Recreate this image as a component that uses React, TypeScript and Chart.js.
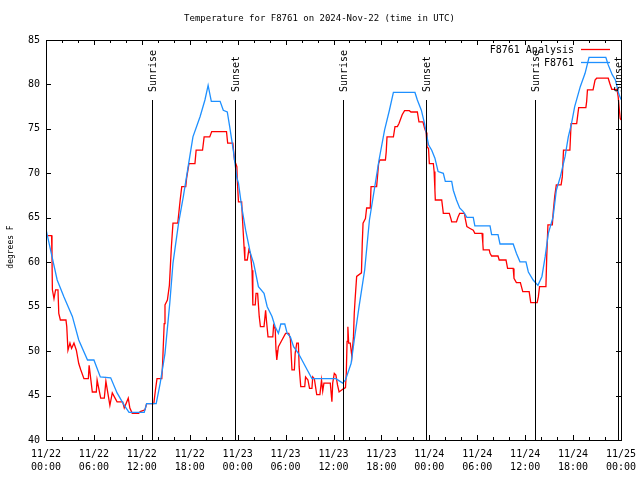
import React, { useEffect, useRef } from "react";
import { Chart, registerables } from "chart.js";

Chart.register(...registerables);

const TITLE = "Temperature for F8761 on 2024-Nov-22 (time in UTC)";
const Y_LABEL = "degrees F";
const ANALYSIS_NAME = "F8761 Analysis";
const OBS_NAME = "F8761";

const X_TICK_HOURS = [0, 6, 12, 18, 24, 30, 36, 42, 48, 54, 60, 66, 72];
const X_TICK_DATES = ["11/22", "11/22", "11/22", "11/22", "11/23", "11/23", "11/23", "11/23", "11/24", "11/24", "11/24", "11/24", "11/25"];
const X_TICK_TIMES = ["00:00", "06:00", "12:00", "18:00", "00:00", "06:00", "12:00", "18:00", "00:00", "06:00", "12:00", "18:00", "00:00"];

const SUN_HOURS = [13.25, 23.65, 37.25, 47.55, 61.2, 71.6];
const SUN_LABELS = ["Sunrise", "Sunset", "Sunrise", "Sunset", "Sunrise", "Sunset"];
const SUN_LINE_TOP = 78.3;

// F8761 (observations) — hours since 11/22 00:00 UTC, degrees F
const OBS_HOURS = [
  0, 1.4, 2.25, 3.3, 4.1, 5.2, 6.0, 6.8, 8.1, 8.9, 9.8, 10.4, 12.3, 12.6, 13.8, 14.3, 14.9, 15.5, 15.9, 16.6,
  17.2, 17.8, 18.4, 19.3, 19.9, 20.3, 20.7, 21.8, 22.2, 22.7, 23.0, 23.45, 23.9, 24.1, 24.5, 25.0, 25.6, 26.0,
  26.6, 27.3, 27.7, 28.3, 28.7, 29.1, 29.4, 29.9, 30.2, 30.6, 31.0, 31.6, 32.05, 32.7, 33.3, 35.8, 36.3, 37.15,
  37.5, 38.2, 38.6, 39.2, 39.9, 40.5, 41.1, 41.7, 42.4, 43.0, 43.5, 46.2, 46.5, 47.0, 47.4, 47.9, 48.3, 48.7,
  49.1, 49.75, 50.0, 50.8, 51.0, 51.4, 51.8, 52.25, 52.7, 53.5, 53.7, 55.6, 55.8, 56.6, 56.85, 58.5, 58.9,
  59.35, 60.1, 60.4, 61.0, 61.6, 62.1, 62.5, 62.9, 63.5, 63.9, 64.4, 65.0, 65.4, 65.8, 66.2, 66.9, 67.5, 68.0,
  70.1, 70.4, 70.9, 71.3, 71.7, 72.0,
];
const OBS_TEMPS = [
  63.7, 58.0, 56.1, 53.9, 51.25, 49.0, 49.0, 47.1, 47.0, 45.3, 43.9, 43.1, 43.1, 44.1, 44.1, 46.4, 49.75, 55.4, 59.9, 64.4,
  67.4, 70.75, 74.1, 76.4, 78.25, 79.9, 78.1, 78.1, 77.1, 76.9, 75.25, 72.6, 69.5, 68.9, 66.25, 63.6, 61.0, 59.9,
  57.25, 56.5, 55.0, 53.9, 52.75, 52.0, 53.05, 53.05, 52.0, 51.6, 50.5, 49.75, 49.0, 47.9, 46.9, 46.9, 46.9, 46.4,
  46.75, 48.6, 51.25, 55.0, 59.1, 64.75, 68.1, 71.5, 74.9, 77.1, 79.1, 79.1, 78.25, 77.1, 75.6, 73.2, 72.6, 71.7,
  70.2, 70.0, 69.1, 69.1, 68.1, 67.0, 66.1, 65.7, 65.05, 65.05, 64.1, 64.1, 63.1, 63.1, 62.05, 62.05, 61.0,
  60.05, 60.05, 58.9, 58.0, 57.4, 58.4, 60.6, 63.25, 65.1, 68.1, 69.6, 71.9, 74.1, 75.6, 77.5, 79.75, 81.25, 83.05,
  83.05, 82.2, 81.1, 80.5, 79.0, 78.3,
];

// F8761 Analysis
const ANA_HOURS = [
  0, 0.7, 0.75, 0.8, 1.0, 1.2, 1.5, 1.6, 1.8, 2.5, 2.6, 2.75, 3.0, 3.2, 3.5, 3.8, 4.1, 4.35, 4.75, 5.3,
  5.4, 5.8, 6.3, 6.4, 6.85, 7.3, 7.5, 8.0, 8.3, 8.6, 8.9, 9.6, 9.8, 10.3, 10.5, 10.8, 11.6, 11.8, 12.4, 12.6,
  13.5, 13.7, 13.9, 14.5, 14.6, 14.8, 14.9, 15.2, 15.45, 15.7, 15.9, 16.5, 16.8, 17.0, 17.5, 17.6, 17.9, 18.65,
  18.8, 19.6, 19.8, 20.5, 20.75, 22.6, 22.75, 23.4, 23.6, 23.9, 23.95, 24.1, 24.5, 24.6, 24.8, 24.9, 25.2,
  25.4, 25.6, 25.8, 25.9, 26.2, 26.3, 26.5, 26.7, 26.85, 27.3, 27.5, 27.6, 27.8, 28.4, 28.5, 28.7, 28.8, 28.9,
  29.1, 29.55, 30.0, 30.4, 30.6, 30.8, 31.1, 31.2, 31.4, 31.6, 31.7, 31.9, 32.4, 32.5, 32.8, 33.0, 33.3, 33.4,
  33.6, 33.9, 34.3, 34.5, 34.65, 34.8, 35.6, 35.8, 35.9, 36.1, 36.3, 36.5, 36.7, 37.15, 37.5, 37.6, 37.7, 37.8,
  37.9, 38.1, 38.3, 38.5, 38.6, 38.7, 38.9, 39.5, 39.6, 39.7, 40.0, 40.15, 40.6, 40.7, 41.4, 41.65, 41.8, 42.5,
  42.6, 42.7, 43.5, 43.7, 44.0, 44.2, 44.6, 44.9, 45.5, 45.7, 46.5, 46.7, 47.2, 47.4, 47.6, 47.7, 47.9, 48.0,
  48.5, 48.6, 48.7, 48.75, 49.55, 49.7, 49.75, 50.5, 50.7, 50.8, 51.4, 51.6, 51.8, 52.4, 52.5, 52.7, 53.1, 53.5,
  53.7, 54.6, 54.7, 54.75, 55.5, 55.6, 55.8, 56.6, 56.75, 57.6, 57.8, 58.5, 58.6, 58.9, 59.4, 59.7, 60.5, 60.7,
  61.5, 61.65, 61.8, 62.6, 62.7, 62.85, 63.4, 63.5, 63.7, 63.9, 64.5, 64.65, 64.8, 65.6, 65.75, 66.45, 66.7,
  67.6, 67.7, 67.8, 68.5, 68.75, 68.95, 70.4, 70.6, 70.85, 71.5, 71.65, 71.8, 71.9, 72.0,
];
const ANA_TEMPS = [
  63.0, 63.0, 60.6, 56.9, 55.9, 56.9, 56.9, 54.25, 53.5, 53.5, 52.75, 50.1, 50.9, 50.3, 50.9, 50.1, 48.6, 47.9, 46.9, 46.9,
  48.4, 45.4, 45.4, 46.75, 44.7, 44.7, 46.6, 43.9, 45.3, 44.8, 44.3, 44.3, 43.6, 44.7, 43.6, 43.0, 43.0, 43.2, 43.4, 44.1,
  44.1, 45.6, 46.9, 46.9, 48.6, 53.1, 55.2, 55.75, 57.4, 61.75, 64.4, 64.4, 67.0, 68.5, 68.5, 69.4, 71.1, 71.1,
  72.6, 72.6, 74.1, 74.1, 74.7, 74.7, 73.4, 73.4, 71.5, 70.75, 69.25, 66.8, 66.8, 64.9, 61.75, 60.25, 60.25,
  61.4, 61.0, 59.1, 55.2, 55.2, 56.5, 56.5, 53.9, 52.75, 52.75, 54.6, 53.5, 51.6, 51.6, 52.9, 52.5, 50.1, 49.0,
  50.5, 51.25, 52.0, 52.0, 51.4, 47.9, 47.9, 49.75, 50.9, 50.9, 48.25, 46.0, 46.0, 47.1, 46.75, 45.8, 45.8, 47.1,
  46.9, 45.1, 45.1, 46.75, 45.5, 46.4, 46.4, 44.3, 46.4, 47.5, 47.3, 46.2, 45.4, 45.7, 45.9, 47.5, 51.1, 52.75,
  50.9, 50.9, 49.4, 51.6, 54.25, 55.75, 58.4, 58.8, 62.1, 64.4, 64.9, 66.1, 66.1, 68.5, 68.5, 71.1, 71.5, 71.5,
  72.4, 74.1, 74.1, 75.25, 75.25, 75.6, 76.6, 77.05, 77.05, 76.9, 76.9, 75.8, 75.8, 75.1, 74.6, 73.0, 72.8, 71.1,
  71.1, 70.2, 68.1, 67.0, 67.0, 65.9, 65.5, 65.5, 64.9, 64.55, 64.55, 65.1, 65.5, 65.5, 64.9, 64.0, 63.8, 63.6,
  63.25, 63.25, 62.1, 61.4, 61.4, 61.0, 60.7, 60.7, 60.25, 60.25, 59.3, 59.3, 58.2, 57.7, 57.7, 56.7, 56.7, 55.45,
  55.45, 56.1, 57.25, 57.25, 60.6, 64.2, 64.2, 65.5, 67.4, 68.7, 68.7, 69.6, 72.6, 72.6, 75.6, 75.6, 77.4,
  77.4, 78.1, 79.4, 79.4, 80.5, 80.7, 80.7, 80.1, 79.45, 79.45, 78.6, 77.1, 76.2, 76.0,
];

const RED = "#ff0000";
const BLUE = "#1e90ff";
const FONT_FAMILY = '"DejaVu Sans Mono", "Liberation Mono", monospace';
const FONT = `10px ${FONT_FAMILY}`;
const TITLE_FONT = `9px ${FONT_FAMILY}`;
const YLABEL_FONT = `8px ${FONT_FAMILY}`;

const decorPlugin = {
  id: "decor",
  afterDraw(chart: any) {
    const { ctx, chartArea, scales } = chart;
    const { left, right, top, bottom } = chartArea;
    const xs = scales.x;
    const ys = scales.y;
    ctx.save();
    ctx.strokeStyle = "#000";
    ctx.fillStyle = "#000";
    ctx.lineWidth = 1;

    // frame
    ctx.strokeRect(Math.round(left) + 0.5, Math.round(top) + 0.5, Math.round(right - left), Math.round(bottom - top));

    // x ticks (major 6h, minor 2h), bottom and top
    ctx.beginPath();
    for (let h = xs.min; h <= xs.max; h += 2) {
      const px = Math.round(xs.getPixelForValue(h)) + 0.5;
      const len = h % 6 === 0 ? 5 : 3;
      ctx.moveTo(px, bottom);
      ctx.lineTo(px, bottom - len);
      ctx.moveTo(px, top);
      ctx.lineTo(px, top + len);
    }
    // y ticks left and right
    for (let v = ys.min; v <= ys.max; v += 5) {
      const py = Math.round(ys.getPixelForValue(v)) + 0.5;
      ctx.moveTo(left, py);
      ctx.lineTo(left + 5, py);
      ctx.moveTo(right, py);
      ctx.lineTo(right - 5, py);
    }
    ctx.stroke();

    ctx.font = FONT;

    // sunrise / sunset markers
    const lineTop = Math.round(ys.getPixelForValue(SUN_LINE_TOP));
    SUN_HOURS.forEach((h, i) => {
      const px = Math.round(xs.getPixelForValue(h)) + 0.5;
      ctx.beginPath();
      ctx.moveTo(px, lineTop);
      ctx.lineTo(px, bottom);
      ctx.stroke();
      ctx.save();
      ctx.translate(px + 1, lineTop - 8);
      ctx.rotate(-Math.PI / 2);
      ctx.textAlign = "left";
      ctx.textBaseline = "middle";
      ctx.fillText(SUN_LABELS[i], 0, 0);
      ctx.restore();
    });

    // title
    ctx.font = TITLE_FONT;
    ctx.textAlign = "center";
    ctx.textBaseline = "middle";
    ctx.fillText(TITLE, (left + right) / 2 - 14, 19);

    // y axis label
    ctx.font = YLABEL_FONT;
    ctx.save();
    ctx.translate(11, (top + bottom) / 2 + 7);
    ctx.rotate(-Math.PI / 2);
    ctx.textAlign = "center";
    ctx.textBaseline = "middle";
    ctx.fillText(Y_LABEL, 0, 0);
    ctx.restore();

    // legend
    ctx.font = FONT;
    const textRight = right - 47;
    ctx.textAlign = "right";
    ctx.textBaseline = "middle";
    ctx.fillText(ANALYSIS_NAME, textRight, top + 10);
    ctx.fillText(OBS_NAME, textRight, top + 23);
    ctx.lineWidth = 1.3;
    ctx.strokeStyle = RED;
    ctx.beginPath();
    ctx.moveTo(right - 40, top + 9.5);
    ctx.lineTo(right - 11, top + 9.5);
    ctx.stroke();
    ctx.strokeStyle = BLUE;
    ctx.beginPath();
    ctx.moveTo(right - 40, top + 22.5);
    ctx.lineTo(right - 11, top + 22.5);
    ctx.stroke();

    ctx.restore();
  },
};

export default function App() {
  const canvasRef = useRef<HTMLCanvasElement | null>(null);

  useEffect(() => {
    const canvas = canvasRef.current;
    if (!canvas) return;
    const tickFont = { family: FONT_FAMILY, size: 10, lineHeight: 1.3 };
    const chart = new Chart(canvas, {
      type: "line",
      data: {
        datasets: [
          {
            label: ANALYSIS_NAME,
            data: ANA_HOURS.map((h, i) => ({ x: h, y: ANA_TEMPS[i] })),
            borderColor: RED,
            backgroundColor: RED,
            borderWidth: 1.3,
            pointRadius: 0,
            fill: false,
            order: 1,
          },
          {
            label: OBS_NAME,
            data: OBS_HOURS.map((h, i) => ({ x: h, y: OBS_TEMPS[i] })),
            borderColor: BLUE,
            backgroundColor: BLUE,
            borderWidth: 1.3,
            pointRadius: 0,
            fill: false,
            order: 0,
          },
        ],
      },
      options: {
        animation: false,
        responsive: false,
        devicePixelRatio: 1,
        layout: { padding: { top: 40, right: 19, left: 0, bottom: 0 } },
        plugins: {
          legend: { display: false },
          title: { display: false },
          tooltip: { enabled: false },
        },
        elements: { line: { tension: 0 }, point: { radius: 0 } },
        scales: {
          x: {
            type: "linear",
            min: 0,
            max: 72,
            afterFit: (s: any) => {
              s.height = 40;
              s.paddingLeft = 0;
              s.paddingRight = 0;
            },
            afterBuildTicks: (s: any) => {
              s.ticks = X_TICK_HOURS.map((v) => ({ value: v }));
            },
            grid: { display: false, drawTicks: false },
            border: { display: false },
            ticks: {
              autoSkip: false,
              maxRotation: 0,
              minRotation: 0,
              padding: 8,
              color: "#000",
              font: tickFont,
              callback: (v: any) => {
                const i = X_TICK_HOURS.indexOf(Number(v));
                return i >= 0 ? [X_TICK_DATES[i], X_TICK_TIMES[i]] : "";
              },
            },
          },
          y: {
            type: "linear",
            min: 40,
            max: 85,
            afterFit: (s: any) => {
              s.width = 46;
              s.paddingTop = 0;
              s.paddingBottom = 0;
            },
            grid: { display: false, drawTicks: false },
            border: { display: false },
            ticks: {
              stepSize: 5,
              padding: 6,
              color: "#000",
              font: tickFont,
            },
          },
        },
      },
      plugins: [decorPlugin],
    });
    return () => chart.destroy();
  }, []);

  return (
    <div style={{ position: "absolute", left: 0, top: 0, width: 640, height: 480, background: "#fff" }}>
      <canvas ref={canvasRef} width={640} height={480} />
    </div>
  );
}
